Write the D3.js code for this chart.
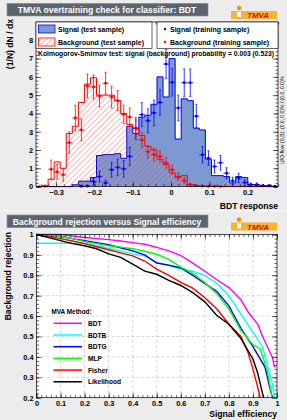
<!DOCTYPE html>
<html>
<head>
<meta charset="utf-8">
<script src="https://cdn.jsdelivr.net/npm/d3@7/dist/d3.min.js"></script>
<style>
  body { margin: 0; background: #ececec; }
  text { font-family: 'Liberation Sans', Arial, sans-serif; font-weight: bold; }
</style>
</head>
<body>
<div id="chart"></div>
<script>
// ---- overtraining check data (40 bins of BDT response) ----
const bdtRange = [-0.3525, 0.2794];
const nBins = 40;
const sigTest = [0, 0, 0, 0, 0, 0, 0.1, 0.3, 0.3, 0.5, 1.7, 1.75, 1.75, 1.8, 1.55, 3.3, 2.9,
  3.8, 3.9, 4.5, 6.0, 4.9, 7.0, 2.6, 4.8, 4.7, 3.2, 3.1, 1.5, 0.6, 0.6, 0.55, 0.2, 0.55, 0.5,
  0.12, 0.1, 0.05, 0.02, 0];
const bkgTest = [0, 0.05, 0.4, 1.35, 1.0, 2.9, 3.3, 4.6, 5.6, 5.95, 5.0, 5.0, 5.0, 4.7, 4.0,
  3.4, 3.2, 2.8, 2.2, 2.0, 1.5, 1.2, 0.75, 0.48, 0.6, 0.12, 0.05, 0.03, 0.02, 0.02,
  0, 0, 0, 0, 0, 0, 0, 0, 0, 0];
const sigTrain = [null, null, null, null, null, null, null, 0.02, 0.03, 0.28, 0.55, 0.2, 0.92,
  1.05, 0.97, 1.65, 3.17, 3.94, 3.6, 4.03, 4.6, 6.7, 5.7, 4.3, 5.68, 5.68, 3.85, 1.74, 1.56,
  1.1, 1.3, 0.73, 0.31, 0.47, 0.22, 0.1, 0.1, 0.05, 0.05, 0.02];
const sigTrainErr = [0, 0, 0, 0, 0, 0, 0, 0.05, 0.05, 0.2, 0.3, 0.15, 0.4, 0.45, 0.45, 0.5,
  0.6, 0.65, 0.65, 0.7, 0.7, 0.8, 0.75, 0.7, 0.75, 0.75, 0.65, 0.45, 0.4, 0.35, 0.4, 0.3,
  0.2, 0.25, 0.15, 0.1, 0.1, 0.05, 0.05, 0.03];
const bkgTrain = [0.0, 0.03, 0.95, 0.8, 0.65, 2.4, 3.75, 3.1, 5.5, 5.45, 4.95, 5.65, 4.9,
  4.7, 3.95, 3.8, 3.2, 2.55, 1.9, 1.75, 1.65, 1.3, 0.92, 0.55, 0.33, 0.1, 0.05, 0.03, 0.02,
  0.02, 0.01, null, null, null, null, null, null, null, null, null];
const bkgTrainErr = [0.02, 0.05, 0.5, 0.4, 0.35, 0.6, 0.7, 0.6, 0.65, 0.65, 0.6, 0.6, 0.6,
  0.55, 0.5, 0.5, 0.45, 0.4, 0.35, 0.35, 0.3, 0.3, 0.25, 0.2, 0.15, 0.08, 0.05, 0.03, 0.02,
  0.02, 0.01, 0, 0, 0, 0, 0, 0, 0, 0, 0];
const ksText = 'Kolmogorov-Smirnov test: signal (background) probability = 0.003 (0.523)';
const uoText = 'U/O-flow (S,B): (0.0, 0.0)% / (0.0, 0.0)%';

// ---- ROC data: background rejection at given signal efficiencies ----
const rocMethods = ['BDT', 'BDTB', 'BDTG', 'MLP', 'Fisher', 'Likelihood'];
const rocColors = ['#ff00ff', '#00ffff', '#0000ff', '#00ff00', '#ff0000', '#000000'];
const effBDT = [0, 0.1, 0.2, 0.3, 0.35, 0.4, 0.45, 0.5, 0.55, 0.6, 0.65, 0.7, 0.75, 0.8, 0.85, 0.88, 0.9, 0.92, 0.94, 0.96, 0.98, 0.99];
const rejBDT = [1, 1, 0.985, 0.975, 0.968, 0.96, 0.952, 0.937, 0.92, 0.897, 0.86, 0.82, 0.778, 0.74, 0.68, 0.62, 0.59, 0.56, 0.5, 0.45, 0.4, 0.35];
const effBDTB = [0, 0.1, 0.2, 0.25, 0.3, 0.35, 0.4, 0.45, 0.5, 0.55, 0.6, 0.65, 0.7, 0.75, 0.8, 0.85, 0.9, 0.94, 0.96, 0.98, 0.99];
const rejBDTB = [0.957, 0.957, 0.957, 0.945, 0.932, 0.92, 0.905, 0.895, 0.862, 0.848, 0.832, 0.82, 0.8, 0.76, 0.7, 0.61, 0.52, 0.45, 0.36, 0.27, 0.2];
const effBDTG = [0, 0.05, 0.1, 0.15, 0.2, 0.25, 0.3, 0.35, 0.4, 0.45, 0.5, 0.55, 0.6, 0.65, 0.7, 0.75, 0.8, 0.85, 0.9, 0.95, 0.97, 0.98];
const rejBDTG = [1, 0.995, 0.99, 0.98, 0.97, 0.96, 0.95, 0.935, 0.92, 0.9, 0.86, 0.85, 0.836, 0.8, 0.76, 0.72, 0.65, 0.54, 0.45, 0.35, 0.25, 0.2];
const effMLP = [0, 0.05, 0.1, 0.15, 0.2, 0.25, 0.3, 0.35, 0.4, 0.45, 0.5, 0.55, 0.6, 0.65, 0.7, 0.75, 0.8, 0.85, 0.9, 0.93, 0.96, 0.98];
const rejMLP = [1, 0.995, 0.99, 0.98, 0.965, 0.955, 0.945, 0.938, 0.93, 0.918, 0.903, 0.878, 0.84, 0.81, 0.765, 0.71, 0.635, 0.53, 0.46, 0.44, 0.33, 0.2];
const effFisher = [0, 0.05, 0.1, 0.15, 0.2, 0.25, 0.3, 0.35, 0.4, 0.45, 0.5, 0.55, 0.6, 0.65, 0.7, 0.75, 0.8, 0.85, 0.88, 0.9, 0.92, 0.93];
const rejFisher = [1, 0.99, 0.98, 0.968, 0.955, 0.94, 0.925, 0.91, 0.895, 0.87, 0.83, 0.8, 0.765, 0.737, 0.69, 0.635, 0.56, 0.5, 0.42, 0.34, 0.25, 0.2];
const effLik = [0, 0.05, 0.1, 0.15, 0.2, 0.25, 0.3, 0.35, 0.4, 0.45, 0.5, 0.55, 0.6, 0.65, 0.7, 0.75, 0.8, 0.85, 0.9, 0.92, 0.94, 0.945];
const rejLik = [1, 0.985, 0.97, 0.955, 0.945, 0.93, 0.905, 0.888, 0.855, 0.82, 0.805, 0.775, 0.75, 0.715, 0.67, 0.603, 0.56, 0.49, 0.39, 0.32, 0.22, 0.2];
const rocEff = [effBDT, effBDTB, effBDTG, effMLP, effFisher, effLik];
const rocRej = [rejBDT, rejBDTB, rejBDTG, rejMLP, rejFisher, rejLik];

const W = 287, H = 420;
const svg = d3.select('#chart').append('svg')
  .attr('width', W).attr('height', H)
  .style('display', 'block');

const defs = svg.append('defs');
defs.append('pattern')
  .attr('id', 'hatch')
  .attr('patternUnits', 'userSpaceOnUse')
  .attr('width', 4).attr('height', 4)
  .attr('patternTransform', 'rotate(45)')
  .append('line')
  .attr('x1', 0).attr('y1', 0).attr('x2', 0).attr('y2', 4)
  .attr('stroke', '#ff3030').attr('stroke-width', 0.7);

// panel backgrounds
svg.append('rect').attr('x', 0).attr('y', 0).attr('width', W).attr('height', H).attr('fill', '#f6f6f6');
svg.append('rect').attr('x', 0).attr('y', 0).attr('width', W).attr('height', 210).attr('fill', '#ececec');
svg.append('rect').attr('x', 0).attr('y', 211.5).attr('width', W).attr('height', H - 211.5).attr('fill', '#ececec');

function titleBox(y, label) {
  svg.append('rect').attr('x', 7).attr('y', y).attr('width', 201).attr('height', 12.7)
    .attr('fill', '#5b6570').attr('stroke', '#8a939b').attr('stroke-width', 0.6);
  svg.append('text').attr('x', 107).attr('y', y + 9.6).attr('text-anchor', 'middle')
    .attr('fill', '#fff').style('font-size', '8.6px').text(label);
}

function logo(y) {
  const g = svg.append('g').attr('transform', `translate(231,${y})`);
  g.append('rect').attr('x', 0).attr('y', 3).attr('width', 46).attr('height', 8).attr('fill', '#f9b233');
  g.append('circle').attr('cx', 8).attr('cy', 0).attr('r', 2.2).attr('fill', '#f39200');
  g.append('rect').attr('x', 6).attr('y', 4).attr('width', 4).attr('height', 5).attr('fill', '#fff');
  g.append('text').attr('x', 16).attr('y', 10).attr('fill', '#d0101a')
    .style('font-size', '8px').style('font-style', 'italic').text('TMVA');
}

function frameAxes(g, x, y, xMajor, xMinor, yMajor, yMinor, xFmt, yFmt) {
  const [x0, x1] = x.range();
  const [yb, yt] = y.range();
  const style = (sel) => {
    sel.select('.domain').remove();
    sel.selectAll('line').attr('stroke', '#000').attr('stroke-width', 0.6);
    sel.selectAll('text').style('font-size', '7.4px').attr('fill', '#000')
      .style('font-family', "'Liberation Sans', Arial, sans-serif").style('font-weight', 'bold');
  };
  g.append('g').attr('transform', `translate(0,${yb})`)
    .call(d3.axisBottom(x).tickValues(xMajor).tickSize(-5).tickPadding(3).tickFormat(xFmt)).call(style);
  g.append('g').attr('transform', `translate(0,${yb})`)
    .call(d3.axisBottom(x).tickValues(xMinor).tickSize(-2.5).tickFormat('')).call(style);
  g.append('g').attr('transform', `translate(0,${yt})`)
    .call(d3.axisTop(x).tickValues(xMajor).tickSize(-5).tickFormat('')).call(style);
  g.append('g').attr('transform', `translate(0,${yt})`)
    .call(d3.axisTop(x).tickValues(xMinor).tickSize(-2.5).tickFormat('')).call(style);
  g.append('g').attr('transform', `translate(${x0},0)`)
    .call(d3.axisLeft(y).tickValues(yMajor).tickSize(-5).tickPadding(3).tickFormat(yFmt)).call(style);
  g.append('g').attr('transform', `translate(${x0},0)`)
    .call(d3.axisLeft(y).tickValues(yMinor).tickSize(-2.5).tickFormat('')).call(style);
  g.append('g').attr('transform', `translate(${x1},0)`)
    .call(d3.axisRight(y).tickValues(yMajor).tickSize(-5).tickFormat('')).call(style);
  g.append('g').attr('transform', `translate(${x1},0)`)
    .call(d3.axisRight(y).tickValues(yMinor).tickSize(-2.5).tickFormat('')).call(style);
  g.append('rect').attr('x', x0).attr('y', yt).attr('width', x1 - x0).attr('height', yb - yt)
    .attr('fill', 'none').attr('stroke', '#000').attr('stroke-width', 0.7);
}

// ================= top panel: overtraining check =================
titleBox(3.3, 'TMVA overtraining check for classifier: BDT');
logo(8);

const xH = d3.scaleLinear().domain(bdtRange).range([36, 278]);
const yH = d3.scaleLinear().domain([0, 9]).range([186.6, 22]);
const topG = svg.append('g');
topG.append('rect').attr('x', 36).attr('y', 22).attr('width', 242).attr('height', 164.6).attr('fill', '#fff');

const binW = (bdtRange[1] - bdtRange[0]) / nBins;
const edge = (i) => bdtRange[0] + i * binW;
const stepPts = (vals) => vals.flatMap((v, i) => [[edge(i), v], [edge(i + 1), v]]);

const area = d3.area().x((d) => xH(d[0])).y0(yH(0)).y1((d) => yH(d[1]));
const line = d3.line().x((d) => xH(d[0])).y((d) => yH(d[1]));

topG.append('path').datum(stepPts(sigTest)).attr('d', area).attr('fill', '#7d99d1');
topG.append('path').datum([[edge(0), 0], ...stepPts(sigTest), [edge(nBins), 0]]).attr('d', line)
  .attr('fill', 'none').attr('stroke', '#0000ee').attr('stroke-width', 1);
topG.append('path').datum(stepPts(bkgTest)).attr('d', area).attr('fill', 'url(#hatch)');
topG.append('path').datum([[edge(0), 0], ...stepPts(bkgTest), [edge(nBins), 0]]).attr('d', line)
  .attr('fill', 'none').attr('stroke', '#ff0000').attr('stroke-width', 1);

function trainPoints(vals, errs, color) {
  const g = topG.append('g').attr('stroke', color).attr('fill', color);
  vals.forEach((v, i) => {
    if (v === null) return;
    const cx = xH(edge(i) + binW / 2);
    const cy = yH(v);
    const e = errs[i];
    g.append('line').attr('x1', xH(edge(i))).attr('x2', xH(edge(i + 1))).attr('y1', cy).attr('y2', cy).attr('stroke-width', 0.8);
    if (e > 0) {
      g.append('line').attr('x1', cx).attr('x2', cx).attr('y1', yH(v + e)).attr('y2', yH(Math.max(0, v - e))).attr('stroke-width', 0.8);
      g.append('line').attr('x1', cx - 1.2).attr('x2', cx + 1.2).attr('y1', yH(v + e)).attr('y2', yH(v + e)).attr('stroke-width', 0.6);
      g.append('line').attr('x1', cx - 1.2).attr('x2', cx + 1.2).attr('y1', yH(Math.max(0, v - e))).attr('y2', yH(Math.max(0, v - e))).attr('stroke-width', 0.6);
    }
    g.append('circle').attr('cx', cx).attr('cy', cy).attr('r', 1.4).attr('stroke', 'none');
  });
}
trainPoints(sigTrain, sigTrainErr, '#0000ff');
trainPoints(bkgTrain, bkgTrainErr, '#ff0000');

frameAxes(topG, xH, yH,
  d3.range(-0.3, 0.25, 0.1), d3.range(-0.34, 0.28, 0.02),
  d3.range(0, 9, 1), d3.range(0, 9.01, 0.2),
  (d) => (Math.abs(d) < 1e-9 ? '0' : d3.format('.1f')(d)), (d) => d);

// legends
const legL = topG.append('g');
legL.append('rect').attr('x', 36).attr('y', 22).attr('width', 116).attr('height', 26.5).attr('fill', '#fff').attr('stroke', '#000').attr('stroke-width', 0.6);
legL.append('rect').attr('x', 38.5).attr('y', 25).attr('width', 16.5).attr('height', 8).attr('fill', '#7d99d1').attr('stroke', '#0000ee').attr('stroke-width', 0.8);
legL.append('rect').attr('x', 38.5).attr('y', 38).attr('width', 16.5).attr('height', 8).attr('fill', 'url(#hatch)').attr('stroke', '#ff0000').attr('stroke-width', 0.8);
legL.append('text').attr('x', 58).attr('y', 31.8).style('font-size', '7px').text('Signal (test sample)');
legL.append('text').attr('x', 58).attr('y', 44.8).style('font-size', '7px').text('Background (test sample)');

const legR = topG.append('g');
legR.append('rect').attr('x', 157).attr('y', 22).attr('width', 121).attr('height', 26.5).attr('fill', '#fff').attr('stroke', '#000').attr('stroke-width', 0.6);
legR.append('circle').attr('cx', 165).attr('cy', 29).attr('r', 1.2).attr('fill', '#0000ff');
legR.append('circle').attr('cx', 165).attr('cy', 42).attr('r', 1.2).attr('fill', '#ff0000');
legR.append('text').attr('x', 170).attr('y', 31.8).style('font-size', '7px').text('Signal (training sample)');
legR.append('text').attr('x', 170).attr('y', 44.8).style('font-size', '7px').text('Background (training sample)');

topG.append('text').attr('x', 38).attr('y', 55.5).style('font-size', '6.6px')
  .attr('textLength', 236).attr('lengthAdjust', 'spacingAndGlyphs').text(ksText);
topG.append('text').attr('transform', 'translate(284,164) rotate(-90)').style('font-size', '5.2px')
  .style('font-weight', 'normal').attr('textLength', 88).attr('lengthAdjust', 'spacingAndGlyphs').text(uoText);

topG.append('text').attr('transform', 'translate(13,19) rotate(-90)').attr('text-anchor', 'end')
  .style('font-size', '8.6px').text('(1/N) dN / dx');
topG.append('text').attr('x', 278).attr('y', 208.5).attr('text-anchor', 'end')
  .style('font-size', '8.6px').text('BDT response');

// ================= bottom panel: ROC =================
titleBox(215, 'Background rejection versus Signal efficiency');
logo(219.5);

const xR = d3.scaleLinear().domain([0, 1]).range([36.5, 277]);
const yR = d3.scaleLinear().domain([0.2, 1]).range([397.7, 234.5]);
const roc = svg.append('g');
roc.append('rect').attr('x', 36.5).attr('y', 234.5).attr('width', 240.5).attr('height', 163.2).attr('fill', '#fff');

// dashed grid
const gridX = d3.range(0.1, 1.0, 0.1);
const gridY = d3.range(0.3, 1.0, 0.1);
roc.append('g').selectAll('line').data(gridX).join('line')
  .attr('x1', (d) => xR(d)).attr('x2', (d) => xR(d)).attr('y1', yR(0.2)).attr('y2', yR(1))
  .attr('stroke', '#b0b0b0').attr('stroke-width', 0.5).attr('stroke-dasharray', '3,2');
roc.append('g').selectAll('line').data(gridY).join('line')
  .attr('y1', (d) => yR(d)).attr('y2', (d) => yR(d)).attr('x1', xR(0)).attr('x2', xR(1))
  .attr('stroke', '#b0b0b0').attr('stroke-width', 0.5).attr('stroke-dasharray', '3,2');

const rocLine = d3.line().x((d) => xR(d[0])).y((d) => yR(d[1]));
roc.append('g').selectAll('path').data(rocMethods).join('path')
  .attr('d', (m, i) => rocLine(d3.zip(rocEff[i], rocRej[i])))
  .attr('fill', 'none').attr('stroke', (m, i) => rocColors[i]).attr('stroke-width', 1.4);

frameAxes(roc, xR, yR,
  d3.range(0, 1.001, 0.1), d3.range(0, 1.001, 0.02),
  d3.range(0.2, 1.001, 0.1), d3.range(0.2, 1.001, 0.02),
  (d) => (d === 0 ? '0' : d > 0.999 ? '1' : d3.format('.1f')(d)),
  (d) => (d > 0.999 ? '1' : d3.format('.1f')(d)));

const leg = roc.append('g');
leg.append('text').attr('x', 51.5).attr('y', 314).style('font-size', '6.4px').text('MVA Method:');
leg.selectAll('line').data(rocMethods).join('line')
  .attr('x1', 53.5).attr('x2', 82).attr('y1', (m, i) => 323.3 + i * 11.7).attr('y2', (m, i) => 323.3 + i * 11.7)
  .attr('stroke', (m, i) => rocColors[i]).attr('stroke-width', 1.5);
leg.selectAll('text.entry').data(rocMethods).join('text').attr('class', 'entry')
  .attr('x', 88).attr('y', (m, i) => 325.8 + i * 11.7).style('font-size', '6.6px').text((m) => m);

roc.append('text').attr('transform', 'translate(11,232) rotate(-90)').attr('text-anchor', 'end')
  .style('font-size', '8.6px').text('Background rejection');
roc.append('text').attr('x', 277).attr('y', 417).attr('text-anchor', 'end')
  .style('font-size', '8.6px').text('Signal efficiency');
</script>
</body>
</html>
